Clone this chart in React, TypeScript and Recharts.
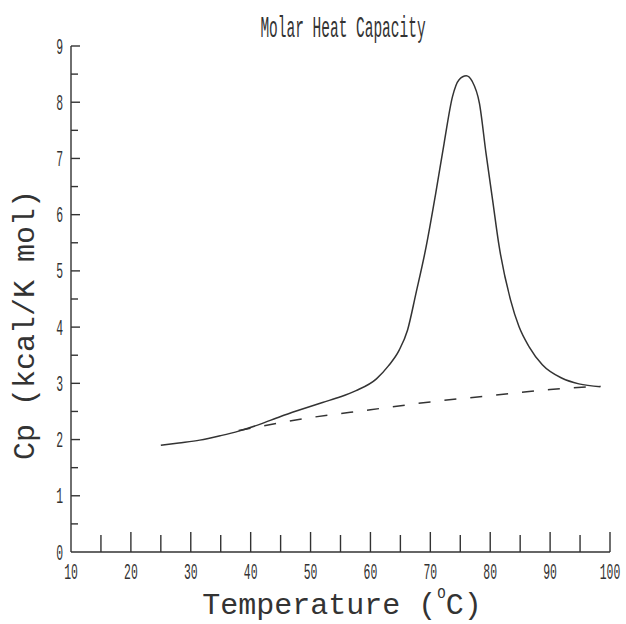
import React from 'react';
import { LineChart, Line, XAxis, YAxis } from 'recharts';

// measured curve (deg C, kcal/K mol)
const tempC = [25, 28, 31.5, 35, 38, 41.5, 45, 48, 52, 55, 57.6, 61, 63, 64.8, 66.2, 67.6, 69.3, 70.9, 72.3, 73.7, 74.8, 76, 77, 78.2, 79.3, 80.4, 81.5, 83.4, 84.8, 86.5, 88.7, 92, 94.8, 98.4];
const cpValues = [1.9, 1.94, 1.99, 2.07, 2.15, 2.27, 2.41, 2.52, 2.66, 2.76, 2.87, 3.08, 3.31, 3.59, 3.95, 4.6, 5.43, 6.38, 7.27, 8.1, 8.4, 8.47, 8.37, 7.98, 7.09, 6.26, 5.43, 4.48, 4.01, 3.65, 3.33, 3.09, 2.99, 2.94];

// baseline (dashed)
const baseTemp = [38, 45, 50, 60, 70, 80, 90, 98.4];
const baseCp = [2.16, 2.3, 2.39, 2.53, 2.67, 2.78, 2.89, 2.95];

const xTicks = [10, 15, 20, 25, 30, 35, 40, 45, 50, 55, 60, 65, 70, 75, 80, 85, 90, 95, 100];
const yTicks = [0, 0.5, 1, 1.5, 2, 2.5, 3, 3.5, 4, 4.5, 5, 5.5, 6, 6.5, 7, 7.5, 8, 8.5, 9];

const curve = tempC.map((t, i) => ({ t, cp: cpValues[i] }));
const baseline = baseTemp.map((t, i) => ({ t, base: baseCp[i] }));

const INK = '#333';
const NARROW = 'Liberation Mono, monospace';

const XTick = (props: any) => {
  const { x, y, payload } = props;
  const v = payload.value;
  const major = v % 10 === 0;
  const len = major ? 20 : 17;
  return (
    <g>
      {v !== 10 && <line x1={x} y1={y} x2={x} y2={y - len} stroke={INK} strokeWidth={1.4} />}
      {major && (
        <text transform={`translate(${x},${y + 27}) scale(0.52,1)`} textAnchor="middle" fontFamily={NARROW} fontSize={22} fill={INK}>
          {v}
        </text>
      )}
    </g>
  );
};

const YTick = (props: any) => {
  const { x, y, payload } = props;
  const v = payload.value;
  const major = Number.isInteger(v);
  const len = major ? 9 : 7;
  return (
    <g>
      {v !== 0 && <line x1={x} y1={y} x2={x + len} y2={y} stroke={INK} strokeWidth={1.4} />}
      {major && (
        <text transform={`translate(${x - 8},${y + 7.5}) scale(0.52,1)`} textAnchor="end" fontFamily={NARROW} fontSize={22} fill={INK}>
          {v}
        </text>
      )}
    </g>
  );
};

export default function App() {
  return (
    <div style={{ position: 'absolute', left: 0, top: 0, background: '#fff' }}>
      <svg width={626} height={624} style={{ position: 'absolute', left: 0, top: 0, pointerEvents: 'none' }}>
        <text transform="translate(343,37) scale(0.5,1)" textAnchor="middle" fontFamily={NARROW} fontSize={29} fill={INK}>
          Molar Heat Capacity
        </text>
        <text x={342} y={614} textAnchor="middle" fontFamily={NARROW} fontSize={30} fill={INK}>
          Temperature (<tspan fontSize={14} dy={-16} dx={1}>O</tspan><tspan dy={16} dx={0}>C)</tspan>
        </text>
        <text transform="translate(34,325) rotate(-90)" textAnchor="middle" fontFamily={NARROW} fontSize={30} fill={INK}>
          Cp (kcal/K mol)
        </text>
      </svg>
      <LineChart width={626} height={624} margin={{ top: 46, right: 16, bottom: 0, left: 0 }}>
        <XAxis
          type="number"
          dataKey="t"
          domain={[10, 100]}
          ticks={xTicks}
          interval={0}
          height={72}
          tickSize={0}
          tickMargin={0}
          tickLine={false}
          axisLine={{ stroke: INK, strokeWidth: 1.4 }}
          tick={<XTick />}
          allowDuplicatedCategory={false}
        />
        <YAxis
          type="number"
          domain={[0, 9]}
          ticks={yTicks}
          interval={0}
          width={71}
          tickSize={0}
          tickMargin={0}
          tickLine={false}
          axisLine={{ stroke: INK, strokeWidth: 1.4 }}
          tick={<YTick />}
        />
        <Line data={curve} dataKey="cp" type="monotone" stroke={INK} strokeWidth={1.5} dot={false} isAnimationActive={false} />
        <Line data={baseline} dataKey="base" type="monotone" stroke={INK} strokeWidth={1.5} strokeDasharray="12 14" dot={false} isAnimationActive={false} />
      </LineChart>
    </div>
  );
}
